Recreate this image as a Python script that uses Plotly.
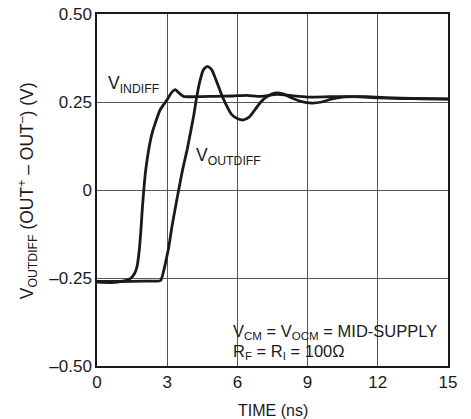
import plotly.graph_objects as go

# --- data ---
t_in = [0, 0.6, 1.1, 1.42, 1.6, 1.71, 1.8, 1.87, 1.94, 2.0, 2.07, 2.14, 2.25, 2.37, 2.49,
        2.7, 2.99, 3.2, 3.35, 3.5, 3.7, 4.2, 5.0, 5.8, 6.4, 7.0, 7.7, 8.3, 9.0, 10.0,
        11.0, 12.0, 13.0, 14.0, 15.0]
v_in = [-0.262, -0.263, -0.259, -0.252, -0.238, -0.218, -0.175, -0.12, -0.05, 0.0, 0.05,
        0.085, 0.13, 0.165, 0.19, 0.228, 0.256, 0.278, 0.285, 0.276, 0.266, 0.265, 0.266,
        0.267, 0.269, 0.266, 0.272, 0.268, 0.264, 0.265, 0.265, 0.262, 0.26, 0.259, 0.258]

t_out = [0, 1.0, 2.0, 2.5, 2.72, 2.85, 2.95, 3.06, 3.2, 3.35, 3.49, 3.65, 3.85, 4.0, 4.13,
         4.25, 4.4, 4.55, 4.72, 4.9, 5.1, 5.3, 5.5, 5.75, 6.0, 6.25, 6.5, 6.75, 7.0, 7.3,
         7.65, 7.95, 8.3, 8.7, 9.2, 9.6, 10.0, 10.5, 11.5, 12.5, 13.5, 15.0]
v_out = [-0.26, -0.26, -0.259, -0.259, -0.257, -0.23, -0.2, -0.165, -0.105, -0.05, 0.0,
         0.055, 0.114, 0.165, 0.21, 0.26, 0.31, 0.342, 0.351, 0.342, 0.31, 0.275, 0.245,
         0.215, 0.203, 0.199, 0.207, 0.228, 0.25, 0.267, 0.276, 0.273, 0.262, 0.252, 0.247,
         0.25, 0.258, 0.264, 0.265, 0.262, 0.26, 0.259]

x_ticks = [0, 3, 6, 9, 12, 15]
x_ticktext = ["0", "3", "6", "9", "12", "15"]
y_ticks = [-0.5, -0.25, 0, 0.25, 0.5]
y_ticktext = ["–0.50", "–0.25", "0", "0.25", "0.50"]

FONT = "Liberation Sans, Arial, sans-serif"
INK = "#1a1a1a"

fig = go.Figure()
for t, v in [(t_in, v_in), (t_out, v_out)]:
    fig.add_trace(go.Scatter(x=t, y=v, mode="lines",
                             line=dict(color=INK, width=2.8, shape="spline", smoothing=0.6),
                             showlegend=False, hoverinfo="skip"))

fig.update_layout(
    width=471, height=419, autosize=False,
    margin=dict(l=97, r=23, t=14, b=53),
    paper_bgcolor="white", plot_bgcolor="white",
    font=dict(family=FONT, size=16, color=INK),
)
fig.update_xaxes(range=[0, 15], tickvals=x_ticks, ticktext=x_ticktext, automargin=False,
                 showgrid=True, gridcolor="#555", gridwidth=1, zeroline=False,
                 showline=True, linecolor=INK, linewidth=1.5, mirror=True,
                 ticks="", tickfont=dict(size=17))
fig.update_yaxes(range=[-0.5, 0.5], tickvals=y_ticks, ticktext=y_ticktext, automargin=False,
                 showgrid=True, gridcolor="#555", gridwidth=1, zeroline=False,
                 showline=True, linecolor=INK, linewidth=1.5, mirror=True,
                 ticks="", tickfont=dict(size=17))

ann = [
    dict(x=0.40, y=0.30, xref="x", yref="y", text="V<sub>INDIFF</sub>",
         xanchor="left", yanchor="middle", font=dict(size=17.5)),
    dict(x=4.15, y=0.094, xref="x", yref="y", text="V<sub>OUTDIFF</sub>",
         xanchor="left", yanchor="middle", font=dict(size=17.5)),
    dict(x=5.74, y=-0.402, xref="x", yref="y", text="V<sub>CM</sub> = V<sub>OCM</sub> = MID-SUPPLY",
         xanchor="left", yanchor="middle", font=dict(size=16.5)),
    dict(x=5.74, y=-0.459, xref="x", yref="y", text="R<sub>F</sub> = R<sub>I</sub> = 100Ω",
         xanchor="left", yanchor="middle", font=dict(size=16.5)),
    dict(x=0.5, y=-0.125, xref="paper", yref="paper", text="TIME (ns)",
         xanchor="center", yanchor="middle", font=dict(size=16)),
    dict(x=-0.199, y=0.497, xref="paper", yref="paper", textangle=-90,
         text="V<sub>OUTDIFF</sub> (OUT<sup>+</sup> – OUT<sup>–</sup>) (V)",
         xanchor="center", yanchor="middle", font=dict(size=17.5)),
]
for a in ann:
    a["showarrow"] = False
    fig.add_annotation(**a)

fig.write_html("out.html", config={"displayModeBar": False},
               post_script="document.body.style.margin='0';document.body.style.padding='0';")
